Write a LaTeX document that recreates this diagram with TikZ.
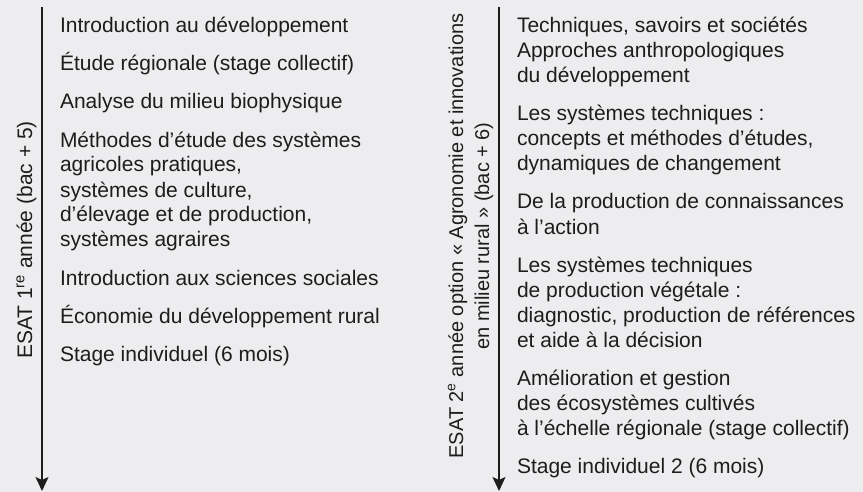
\documentclass[tikz,border=0pt]{standalone}
\usepackage{fontspec}
\setmainfont{Liberation Sans}
\usetikzlibrary{arrows.meta}
\definecolor{bg}{RGB}{237,237,239}
\definecolor{ink}{RGB}{29,29,27}
\newcommand\firstln{\rule{0pt}{21pt}}
\begin{document}
\begin{tikzpicture}[x=1pt,y=-1pt,
  item/.style={anchor=north west,inner sep=0pt,outer sep=0pt,align=left,
    text=ink,font=\fontsize{21}{25}\selectfont},
  yearlabel/.style={anchor=base,rotate=90,inner sep=0pt,text=ink,
    font=\fontsize{21}{25}\selectfont},
  timeline/.style={draw=ink,line width=1.6pt,
    -{Stealth[length=14pt,width=13pt,inset=3pt]}}]
\fill[bg] (0,0) rectangle (863,492);
\useasboundingbox (0,0) rectangle (863,492);

% left timeline
\coordinate (la) at (42,7);
\coordinate (lb) at (42,491);
\draw[timeline] (la) -- (lb);
\node[yearlabel] (ly) at (32,240) {ESAT 1\textsuperscript{re} année (bac + 5)};

\node[item] (l1) at (60,12) {\firstln Introduction au développement};
\node[item] (l2) at (60,50) {\firstln Étude régionale (stage collectif)};
\node[item] (l3) at (60,88) {\firstln Analyse du milieu biophysique};
\node[item] (l4) at (60,126) {\firstln Méthodes d’étude des systèmes\\agricoles pratiques,\\systèmes de culture,\\d’élevage et de production,\\systèmes agraires};
\node[item] (l5) at (60,264) {\firstln Introduction aux sciences sociales};
\node[item] (l6) at (60,302) {\firstln Économie du développement rural};
\node[item] (l7) at (60,340) {\firstln Stage individuel (6 mois)};

% right timeline
\coordinate (ra) at (499,7);
\coordinate (rb) at (499,491);
\draw[timeline] (ra) -- (rb);
\node[yearlabel,font=\fontsize{20}{24}\selectfont] (ry1) at (463,236) {ESAT 2\textsuperscript{e} année option « Agronomie et innovations};
\node[yearlabel,font=\fontsize{20}{24}\selectfont] (ry2) at (489,236) {en milieu rural » (bac + 6)};

\node[item] (r1) at (517,12) {\firstln Techniques, savoirs et sociétés\\Approches anthropologiques\\du développement};
\node[item] (r2) at (517,100) {\firstln Les systèmes techniques :\\concepts et méthodes d’études,\\dynamiques de changement};
\node[item] (r3) at (517,188) {\firstln De la production de connaissances\\à l’action};
\node[item] (r4) at (517,251) {\firstln Les systèmes techniques\\de production végétale :\\diagnostic, production de références\\et aide à la décision};
\node[item] (r5) at (517,364) {\firstln Amélioration et gestion\\des écosystèmes cultivés\\à l’échelle régionale (stage collectif)};
\node[item] (r6) at (517,452) {\firstln Stage individuel 2 (6 mois)};
\end{tikzpicture}
\end{document}
